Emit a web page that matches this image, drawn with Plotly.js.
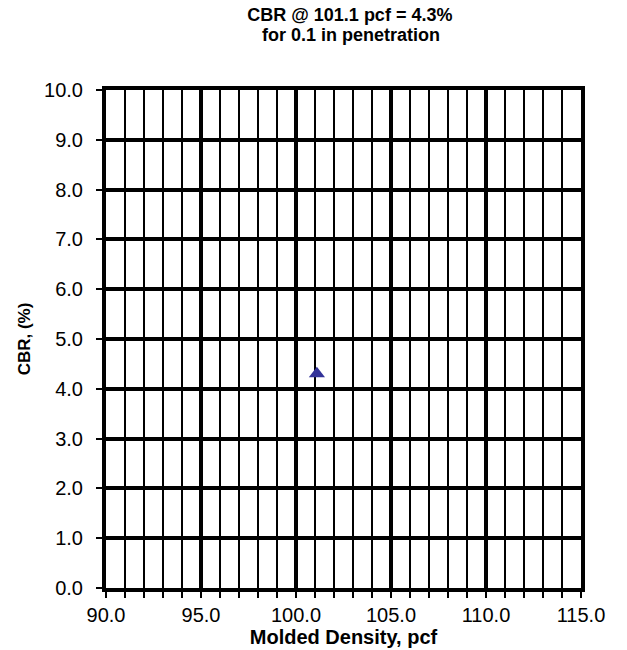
<!DOCTYPE html>
<html>
<head>
<meta charset="utf-8">
<script src="https://cdn.plot.ly/plotly-3.0.1.min.js"></script>
<style>html,body{margin:0;padding:0;background:#fff;}#chart{width:627px;height:650px;}</style>
</head>
<body>
<div id="chart"></div>
<script>
const density = [101.1];
const cbr = [4.3];
const titleLines = ["CBR @ 101.1 pcf = 4.3%", "for 0.1 in penetration"];
const xTitle = "Molded Density, pcf";
const yTitle = "CBR, (%)";

const font = {family: "Liberation Sans, Arial, sans-serif", color: "#000"};

const trace = {
  x: density, y: cbr, type: "scatter", mode: "markers",
  marker: {symbol: "triangle-up", size: 14, color: "#333399"},
  showlegend: false, cliponaxis: false
};

const layout = {
  width: 627, height: 650,
  margin: {l: 106, r: 46, t: 90, b: 62},
  paper_bgcolor: "#fff", plot_bgcolor: "#fff",
  font: Object.assign({size: 20}, font),
  title: {text: "<b>" + titleLines[0] + "</b>",
          font: Object.assign({}, font, {size: 18}),
          x: 0.558, xanchor: "center", yref: "container", y: 1 - 15 / 650, yanchor: "middle"},
  annotations: [{
    text: "<b>" + titleLines[1] + "</b>", showarrow: false,
    xref: "paper", yref: "paper", x: 0.515, y: 1 + 55 / 498, xanchor: "center", yanchor: "middle",
    font: Object.assign({}, font, {size: 18})
  }],
  xaxis: {
    range: [90, 115], dtick: 5, tick0: 90, tickformat: ".1f",
    showgrid: true, gridcolor: "#000", gridwidth: 4,
    showline: true, linecolor: "#000", linewidth: 4, mirror: true,
    ticks: "outside", ticklen: 6, tickwidth: 2, tickcolor: "#000",
    zeroline: false, ticklabelstandoff: 0,
    minor: {dtick: 1, showgrid: true, gridcolor: "#000", gridwidth: 2,
            ticks: "outside", ticklen: 6, tickwidth: 2, tickcolor: "#000"},
    tickfont: Object.assign({}, font, {size: 20}),
    title: {text: "<b>" + xTitle + "</b>", font: Object.assign({}, font, {size: 20}), standoff: 1}
  },
  yaxis: {
    range: [0, 10], dtick: 1, tick0: 0, tickformat: ".1f",
    showgrid: true, gridcolor: "#000", gridwidth: 4,
    showline: true, linecolor: "#000", linewidth: 4, mirror: true,
    ticks: "outside", ticklen: 6, tickwidth: 2, tickcolor: "#000",
    zeroline: false, ticklabelstandoff: 9,
    tickfont: Object.assign({}, font, {size: 20}),
    title: {text: "<b>" + yTitle + "</b>", font: Object.assign({}, font, {size: 17}), standoff: 10}
  }
};

Plotly.newPlot("chart", [trace], layout, {displayModeBar: false, staticPlot: true});
</script>
</body>
</html>
